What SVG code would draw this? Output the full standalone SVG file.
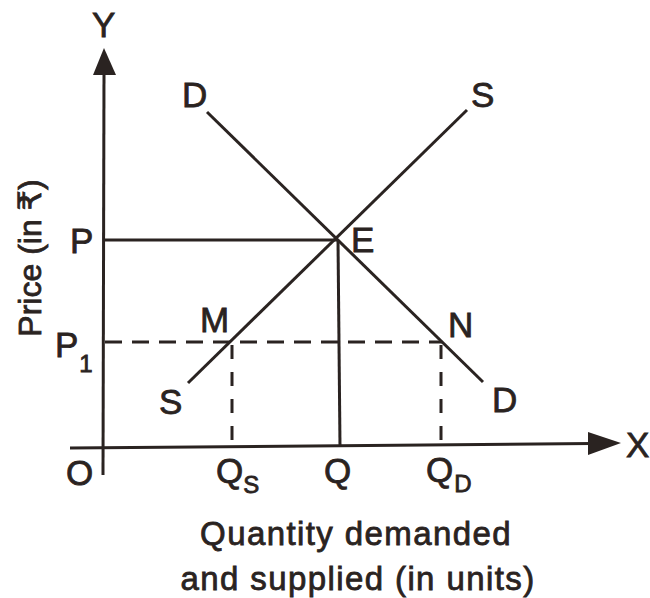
<svg xmlns="http://www.w3.org/2000/svg" width="650" height="598" viewBox="0 0 650 598">
<style>
.ln{stroke:#2a2321;stroke-width:3;fill:none;stroke-linecap:butt}
.dh{stroke:#2a2321;stroke-width:3;fill:none;stroke-dasharray:17 10}
.dv{stroke:#2a2321;stroke-width:3;fill:none;stroke-dasharray:14 13}
.ah{fill:#2a2321}
text{font-family:"Liberation Sans",Arial,"DejaVu Sans",sans-serif;fill:#2a2321;stroke:#2a2321;stroke-width:0.8px}
.lb{font-size:35px}
.sb{font-size:24px}
.cap{font-size:33px;letter-spacing:1.4px}
</style>
<rect width="650" height="598" fill="#ffffff"/>
<g id="axes">
<line class="ln" x1="103" y1="475" x2="104" y2="72"/>
<polygon class="ah" points="104,48 93,75 116,75"/>
<line class="ln" x1="70" y1="448" x2="592" y2="443.5"/>
<polygon class="ah" points="621,443 588,432 588,455"/>
</g>
<g id="connectors">
<line id="demand" class="ln" x1="207" y1="112" x2="483" y2="382"/>
<line id="supply" class="ln" x1="188" y1="383" x2="467" y2="110"/>
<line class="ln" x1="103" y1="240" x2="338" y2="240"/>
<line class="ln" x1="338" y1="240" x2="340" y2="446"/>
<line class="dh" x1="105" y1="342" x2="442" y2="342"/>
<line class="dv" x1="232" y1="345" x2="232" y2="446"/>
<line class="dv" x1="441" y1="345" x2="441" y2="446"/>
</g>
<g id="labels">
<text class="lb" x="92" y="37">Y</text>
<text class="lb" x="626" y="457">X</text>
<text class="lb" x="66" y="485">O</text>
<text class="lb" x="182" y="107">D</text>
<text class="lb" x="492" y="412">D</text>
<text class="lb" x="471" y="107">S</text>
<text class="lb" x="159" y="414">S</text>
<text class="lb" x="351" y="252">E</text>
<text class="lb" x="200" y="332">M</text>
<text class="lb" x="448" y="337">N</text>
<text class="lb" x="70" y="253">P</text>
<text class="lb" x="55" y="357">P<tspan class="sb" dx="1" dy="15">1</tspan></text>
<text class="lb" x="216" y="483">Q<tspan class="sb" dx="0" dy="10">S</tspan></text>
<text class="lb" x="324" y="483">Q</text>
<text class="lb" x="426" y="482">Q<tspan class="sb" dx="1" dy="10">D</tspan></text>
<text class="cap" x="29" y="258" text-anchor="middle" transform="rotate(-90 29 258)" dy="12" style="font-size:32px;letter-spacing:0">Price (in ₹)</text>
<text class="cap" x="356" y="545" text-anchor="middle">Quantity demanded</text>
<text class="cap" x="358" y="590" text-anchor="middle">and supplied (in units)</text>
</g>
</svg>
